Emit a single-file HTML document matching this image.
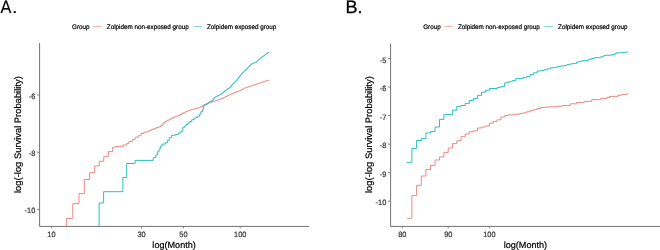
<!DOCTYPE html>
<html><head><meta charset="utf-8"><style>
html,body{margin:0;padding:0;background:#fff;width:660px;height:250px;overflow:hidden;font-family:"Liberation Sans", sans-serif;}
svg{display:block;will-change:transform}
</style></head><body>
<svg width="660" height="250" viewBox="0 0 660 250" font-family='"Liberation Sans", sans-serif' text-rendering="geometricPrecision"><g><rect width="660" height="250" fill="#fff"/><text transform="translate(0.4 12.9) scale(0.9 1)" font-size="18" fill="#000" stroke="#000" stroke-width="0.15">A</text><text x="12.20" y="12.90" font-size="18" text-anchor="start" fill="#000" stroke="#000" stroke-width="0.2">.</text><text x="345.40" y="12.90" font-size="18" text-anchor="start" fill="#000" stroke="#000" stroke-width="0.3">B.</text><text transform="translate(72.10 29.10) scale(1 1.05)" font-size="6.3" text-anchor="start" fill="#000" stroke="#000" stroke-width="0.2">Group</text><text transform="translate(106.80 29.10) scale(1 1.05)" font-size="6.3" text-anchor="start" fill="#000" stroke="#000" stroke-width="0.2">Zolpidem non-exposed group</text><text transform="translate(207.00 29.10) scale(1 1.05)" font-size="6.3" text-anchor="start" fill="#000" stroke="#000" stroke-width="0.2">Zolpidem exposed group</text><line x1="93.3" y1="26.5" x2="101.9" y2="26.5" stroke="#EE8C86" stroke-width="0.65"/><line x1="193.3" y1="26.5" x2="201.8" y2="26.5" stroke="#3CC3C7" stroke-width="0.65"/><text transform="translate(423.20 29.10) scale(1 1.05)" font-size="6.3" text-anchor="start" fill="#000" stroke="#000" stroke-width="0.2">Group</text><text transform="translate(457.90 29.10) scale(1 1.05)" font-size="6.3" text-anchor="start" fill="#000" stroke="#000" stroke-width="0.2">Zolpidem non-exposed group</text><text transform="translate(558.10 29.10) scale(1 1.05)" font-size="6.3" text-anchor="start" fill="#000" stroke="#000" stroke-width="0.2">Zolpidem exposed group</text><line x1="444.40000000000003" y1="26.5" x2="453.0" y2="26.5" stroke="#EE8C86" stroke-width="0.65"/><line x1="544.4000000000001" y1="26.5" x2="552.9000000000001" y2="26.5" stroke="#3CC3C7" stroke-width="0.65"/><path d="M39.6 43V226.4H309" fill="none" stroke="#727272" stroke-width="1.0"/><line x1="37.0" y1="94.9" x2="39.6" y2="94.9" stroke="#727272" stroke-width="0.9"/><text transform="translate(35.30 98.90) scale(1 1.05)" font-size="7.4" text-anchor="end" fill="#333" stroke="#333" stroke-width="0.2">-6</text><line x1="37.0" y1="152.2" x2="39.6" y2="152.2" stroke="#727272" stroke-width="0.9"/><text transform="translate(35.30 156.20) scale(1 1.05)" font-size="7.4" text-anchor="end" fill="#333" stroke="#333" stroke-width="0.2">-8</text><line x1="37.0" y1="209.4" x2="39.6" y2="209.4" stroke="#727272" stroke-width="0.9"/><text transform="translate(35.30 213.40) scale(1 1.05)" font-size="7.4" text-anchor="end" fill="#333" stroke="#333" stroke-width="0.2">-10</text><line x1="51.45" y1="226.4" x2="51.45" y2="228.4" stroke="#727272" stroke-width="0.9"/><text transform="translate(51.45 237.10) scale(1 1.05)" font-size="7.4" text-anchor="middle" fill="#333" stroke="#333" stroke-width="0.2">10</text><line x1="141.5066368283363" y1="226.4" x2="141.5066368283363" y2="228.4" stroke="#727272" stroke-width="0.9"/><text transform="translate(141.51 237.10) scale(1 1.05)" font-size="7.4" text-anchor="middle" fill="#333" stroke="#333" stroke-width="0.2">30</text><line x1="183.38058831842358" y1="226.4" x2="183.38058831842358" y2="228.4" stroke="#727272" stroke-width="0.9"/><text transform="translate(183.38 237.10) scale(1 1.05)" font-size="7.4" text-anchor="middle" fill="#333" stroke="#333" stroke-width="0.2">50</text><line x1="240.2" y1="226.4" x2="240.2" y2="228.4" stroke="#727272" stroke-width="0.9"/><text transform="translate(240.20 237.10) scale(1 1.05)" font-size="7.4" text-anchor="middle" fill="#333" stroke="#333" stroke-width="0.2">100</text><text x="174.10" y="247.80" font-size="9.1" text-anchor="middle" fill="#000" stroke="#000" stroke-width="0.2">log(Month)</text><text transform="translate(21.3 134.6) rotate(-90)" font-size="9.4" text-anchor="middle" fill="#000" stroke="#000" stroke-width="0.2">log(-log Survival Probability)</text><path d="M390.6 43.5V226.4H660" fill="none" stroke="#727272" stroke-width="1.0"/><line x1="388.0" y1="58.5" x2="390.6" y2="58.5" stroke="#727272" stroke-width="0.9"/><text transform="translate(386.30 62.50) scale(1 1.05)" font-size="7.4" text-anchor="end" fill="#333" stroke="#333" stroke-width="0.2">-5</text><line x1="388.0" y1="87.05" x2="390.6" y2="87.05" stroke="#727272" stroke-width="0.9"/><text transform="translate(386.30 91.05) scale(1 1.05)" font-size="7.4" text-anchor="end" fill="#333" stroke="#333" stroke-width="0.2">-6</text><line x1="388.0" y1="115.6" x2="390.6" y2="115.6" stroke="#727272" stroke-width="0.9"/><text transform="translate(386.30 119.60) scale(1 1.05)" font-size="7.4" text-anchor="end" fill="#333" stroke="#333" stroke-width="0.2">-7</text><line x1="388.0" y1="144.15" x2="390.6" y2="144.15" stroke="#727272" stroke-width="0.9"/><text transform="translate(386.30 148.15) scale(1 1.05)" font-size="7.4" text-anchor="end" fill="#333" stroke="#333" stroke-width="0.2">-8</text><line x1="388.0" y1="172.7" x2="390.6" y2="172.7" stroke="#727272" stroke-width="0.9"/><text transform="translate(386.30 176.70) scale(1 1.05)" font-size="7.4" text-anchor="end" fill="#333" stroke="#333" stroke-width="0.2">-9</text><line x1="388.0" y1="201.2" x2="390.6" y2="201.2" stroke="#727272" stroke-width="0.9"/><text transform="translate(386.30 205.20) scale(1 1.05)" font-size="7.4" text-anchor="end" fill="#333" stroke="#333" stroke-width="0.2">-10</text><line x1="402.27" y1="226.4" x2="402.27" y2="228.4" stroke="#727272" stroke-width="0.9"/><text transform="translate(402.27 237.10) scale(1 1.05)" font-size="7.4" text-anchor="middle" fill="#333" stroke="#333" stroke-width="0.2">80</text><line x1="448.2407719234616" y1="226.4" x2="448.2407719234616" y2="228.4" stroke="#727272" stroke-width="0.9"/><text transform="translate(448.24 237.10) scale(1 1.05)" font-size="7.4" text-anchor="middle" fill="#333" stroke="#333" stroke-width="0.2">90</text><line x1="489.36" y1="226.4" x2="489.36" y2="228.4" stroke="#727272" stroke-width="0.9"/><text transform="translate(489.36 237.10) scale(1 1.05)" font-size="7.4" text-anchor="middle" fill="#333" stroke="#333" stroke-width="0.2">100</text><text x="525.40" y="247.80" font-size="9.1" text-anchor="middle" fill="#000" stroke="#000" stroke-width="0.2">log(Month)</text><text transform="translate(372.3 134.6) rotate(-90)" font-size="9.4" text-anchor="middle" fill="#000" stroke="#000" stroke-width="0.2">log(-log Survival Probability)</text><path d="M66.4 226.8H66.4V218.4H72.8V203.7H79.0V193.6H84.3V179.5H89.7V172.7H94.7V165.9H99.3V161.3H103.7V156.7H108.4V151.6H112.7V147.2H115.6V146.4H123.3V145.0H126.7V143.5H129.0V141.6H132.3V139.6H135.1V137.2H138.0V135.8H140.9V133.4H143.8V132.4H144.19V132.27H146.80V131.43H149.32V130.32H151.77V129.29H154.14V128.35H156.45V127.58H158.70V126.83H160.88V125.24H163.01V122.88H165.09V121.26H167.11V120.24H169.09V119.26H171.02V118.29H172.90V117.35H174.74V116.69H176.55V116.08H178.31V115.43H180.03V114.49H181.72V113.57H183.38V112.67H185.00V111.84H186.60V111.21H188.16V110.59H189.69V110.03H191.19V109.65H192.67V109.28H194.12V108.92H195.55V108.56H196.95V108.12H198.33V107.66H199.68V107.21H201.01V106.64H202.33V105.80H203.62V104.97H204.89V104.31H206.14V103.77H207.37V103.24H208.59V102.75H209.78V102.40H210.96V102.05H212.13V101.71H213.27V101.38H214.40V101.00H215.52V100.63H216.62V100.26H217.70V99.90H218.78V99.51H219.83V99.11H220.88V98.72H221.91V98.33H222.93V97.94H223.93V97.43H224.93V96.94H225.91V96.45H226.88V95.96H227.84V95.49H228.78V95.06H229.72V94.63H230.65V94.20H231.56V93.78H232.47V93.37H233.36V93.02H234.25V92.68H235.13V92.34H236.00V92.00H236.85V91.70H237.70V91.40H238.54V91.11H239.38V90.82H240.20V90.48H241.02V89.99H241.82V89.51H242.62V89.03H243.42V88.55H244.20V88.13H244.98V87.87H245.75V87.62H246.51V87.36H247.26V87.11H248.01V86.86H248.75V86.62H249.49V86.37H250.22V86.13H250.94V85.89H251.66V85.65H252.37V85.41H253.07V85.18H253.77V84.94H254.46V84.71H255.15V84.48H255.83V84.26H256.50V84.03H257.17V83.81H257.83V83.59H258.49V83.37H259.14V83.15H259.79V82.94H260.44V82.72H261.07V82.51H261.71V82.30H262.33V82.09H262.96V81.88H263.58V81.67H264.19V81.47H264.80V81.27H265.41V81.06H266.01V80.88H266.60V80.71H267.19V80.53H267.78V80.36H268.37V80.19H268.94V80.02H269.00" fill="none" stroke="#EC7B73" stroke-width="0.9"/><path d="M99.1 226.8H99.1V203.0H103.6V191.7H122.9V177.5H126.7V163.5H135.1V160.4H153.2V157.6H155.8V155.0H157.4V151.8H159.0V149.2H160.3V146.0H162.2V144.1H165.4V142.8H167.3V140.3H169.2V137.7H171.5V135.3H175.1V134.4H178.3V133.0H180.9V131.2H182.8V127.3H184.7V126.0H186.0V124.7H188.0V122.8H189.9V121.5H191.8V119.6H194.0V118.3H195.8V117.4H197.7V116.2H199.6V114.2H200.9V111.7H202.8V109.1H203.5V106.5H204.1V105.3H204.89V104.91H206.14V104.28H207.37V103.46H208.59V102.49H209.78V101.73H210.96V101.19H212.13V100.28H213.27V98.45H214.40V97.29H215.52V96.72H216.62V96.15H217.70V95.60H218.78V95.10H219.83V94.62H220.88V93.94H221.91V93.11H222.93V92.28H223.93V91.35H224.93V90.56H225.91V89.81H226.88V89.11H227.84V88.61H228.78V88.12H229.72V87.26H230.65V86.12H231.56V84.99H232.47V84.06H233.36V83.20H234.25V82.34H235.13V81.44H236.00V80.54H236.85V79.65H237.70V78.50H238.54V77.35H239.38V76.27H240.20V75.23H241.02V74.28H241.82V73.48H242.62V72.68H243.42V71.88H244.20V71.10H244.98V70.32H245.75V69.55H246.51V68.79H247.26V68.04H248.01V67.29H248.75V66.55H249.49V65.81H250.22V65.08H250.94V64.36H251.66V63.68H252.37V63.43H253.07V63.19H253.77V62.94H254.46V62.71H255.15V62.48H255.83V62.17H256.50V61.50H257.17V60.83H257.83V60.17H258.49V59.53H259.14V59.05H259.79V58.57H260.44V58.09H261.07V57.62H261.71V57.14H262.33V56.67H262.96V56.21H263.58V55.74H264.19V55.28H264.80V54.83H265.41V54.38H266.01V53.94H266.60V53.50H267.19V53.01H267.78V52.53H268.37V52.06H268.80" fill="none" stroke="#12B9BE" stroke-width="0.9"/><path d="M406.8 162.4H411.9V148.4H416.6V140.5H421.3V138.6H425.9V133.0H430.5V131.6H435.0V127.0H439.5V119.4H443.9V114.4H452.6V110.2H456.8V106.3H461.0V105.5H465.2V103.4H469.3V100.5H473.4V98.6H477.5V95.4H481.5V92.2H485.4V90.3H489.4V88.5H497.1V87.6H500.9V86.4H504.7V82.8H508.4V81.8H512.1V80.6H515.8V78.4H523.0V77.6H526.6V76.4H530.1V74.6H533.6V72.8H537.1V71.0H540.5V70.6H543.9V69.8H547.3V68.8H550.6V67.8H554.0V67.4H557.3V66.4H560.5V66.0H563.8V65.4H567.0V64.6H570.2V63.8H573.3V63.4H576.5V62.0H579.6V61.2H582.7V60.4H588.8V59.2H591.8V58.4H594.8V57.6H600.7V56.8H603.6V55.6H606.5V55.2H612.2V54.4H615.1V53.6H616.4V52.8H622.0V52.4H626.2V52.0H628" fill="none" stroke="#12B9BE" stroke-width="0.9"/><path d="M407.2 218.3H411.9V195.4H416.6V185.3H421.3V176.0H425.9V169.6H430.5V165.6H435.0V160.0H439.5V157.0H443.9V152.4H448.2V148.0H452.6V143.6H456.8V140.8H461.0V136.4H465.2V134.0H469.3V131.8H473.4V130.8H477.5V128.0H481.5V127.0H485.4V126.0H489.4V123.2H493.2V121.6H497.1V119.8H500.9V117.0H504.7V115.6H508.4V114.8H514.4V114.2H519.4V113.6H523.0V112.8H526.6V111.8H530.1V110.6H533.6V109.6H537.1V108.4H540.5V107.4H545.6V107.0H550.6V106.8H557.3V106.2H562.3V105.6H570.2V103.8H576.5V102.6H584.1V101.4H591.8V99.6H600.7V98.4H606.5V97.6H609.4V96.4H617.9V95.2H622.0V94.4H626.2V94.0H627.5V93.6H628" fill="none" stroke="#EC7B73" stroke-width="0.9"/></g></svg>
</body></html>
